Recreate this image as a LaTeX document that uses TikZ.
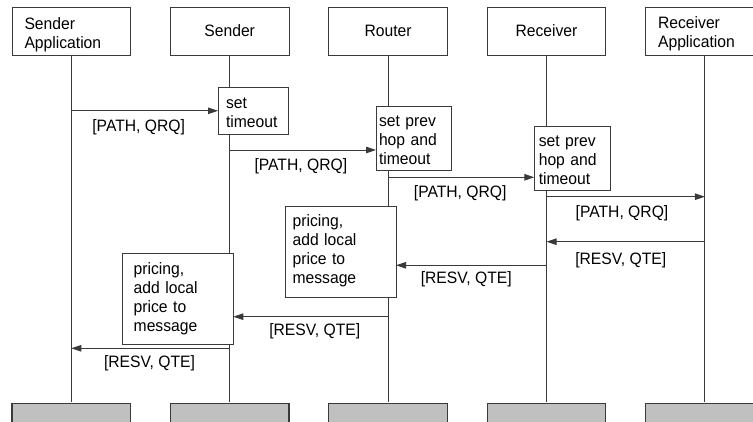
\documentclass[tikz,border=0pt]{standalone}
\usepackage{fontspec}
\setmainfont{Liberation Sans}[FakeStretch=0.95]
\usetikzlibrary{arrows.meta,calc}
\definecolor{ln}{HTML}{3A3A3A}
\definecolor{bx}{HTML}{C0C0C0}
\begin{document}
\begin{tikzpicture}[x=1pt,y=-1pt,
  font=\fontsize{16.5}{19}\selectfont,
  box/.style={draw=ln, line width=0.9pt, fill=white, inner ysep=0pt, outer sep=0pt, anchor=north west},
  topbox/.style={box, text width=108.6pt, inner xsep=5pt, align=center, text height=29.7pt, text depth=18pt},
  appbox/.style={box, align=left, text width=93.6pt, inner xsep=12.5pt},
  botbox/.style={draw=ln, line width=1.1pt, fill=bx, inner sep=0pt, outer sep=0pt, anchor=north west, minimum width=118.6pt, minimum height=40pt},
  life/.style={draw=ln, line width=0.9pt},
  msg/.style={draw=ln, line width=0.9pt, -{Triangle[length=10pt,width=6.5pt]}},
  lbl/.style={inner sep=0pt, midway}
]
\clip (0,0) rectangle (753,422);
\fill[white] (0,0) rectangle (753,422);

% top boxes
\node[appbox, text height=22pt, text depth=25.7pt] (tSA) at (12,7.3) {Sender\\Application};
\node[topbox] (tS) at (170.4,7.3) {Sender};
\node[topbox] (tR) at (328.8,7.3) {Router};
\node[topbox] (tRc) at (487.2,7.3) {Receiver};
\node[appbox, text height=21pt, text depth=26.7pt] (tRA) at (645.6,7.3) {Receiver\\Application};

% bottom boxes
\node[botbox] (bSA) at (12,403.5) {};
\node[botbox] (bS) at (170.4,403.5) {};
\node[botbox] (bR) at (328.8,403.5) {};
\node[botbox] (bRc) at (487.2,403.5) {};
\node[botbox] (bRA) at (645.6,403.5) {};

% process boxes
\node[box, align=left, text width=54.7pt, inner xsep=8pt, text height=21pt, text depth=26pt] (pST) at (218,87.3) {set\\timeout};
\node[box, align=left, text width=69.7pt, inner xsep=3pt, text height=19.5pt, text depth=43.8pt] (pRH) at (376,106.7) {set prev\\hop and\\timeout};
\node[box, align=left, text width=66.7pt, inner xsep=4.5pt, text height=19.5pt, text depth=43.8pt] (pCH) at (534.3,126.7) {set prev\\hop and\\timeout};
\node[box, align=left, text width=95.8pt, inner xsep=7.6pt, text height=20.5pt, text depth=70.8pt] (pRP) at (285,206) {pricing,\\add local\\price to\\message};
\node[box, align=left, text width=88.6pt, inner xsep=11pt, text height=21.5pt, text depth=69.5pt] (pSP) at (122.7,253.3) {pricing,\\add local\\price to\\message};

% lifelines
\draw[life, shorten >=1.5pt] (tSA.south) -- (bSA.north);
\draw[life] (tS.south) -- (tS.south |- pST.north);
\draw[life] (tS.south |- pST.south) -- (tS.south |- pSP.north);
\draw[life, shorten >=1.5pt] (tS.south |- pSP.south) -- (bS.north);
\draw[life] (tR.south) -- (tR.south |- pRH.north);
\draw[life] (tR.south |- pRH.south) -- (tR.south |- pRP.north);
\draw[life, shorten >=1.5pt] (tR.south |- pRP.south) -- (bR.north);
\draw[life] (tRc.south) -- (tRc.south |- pCH.north);
\draw[life, shorten >=1.5pt] (tRc.south |- pCH.south) -- (bRc.north);
\draw[life, shorten >=1.5pt] (tRA.south) -- (bRA.north);

% message heights
\coordinate (y2) at (0,150);
\coordinate (y3) at (0,177.3);
\coordinate (y4) at (0,196.7);
\coordinate (y5) at (0,241.7);
\coordinate (y6) at (0,265.3);
\coordinate (y7) at (0,316.7);
\coordinate (y8) at (0,348.3);

% messages
\draw[msg] (tSA.south |- pST.west) -- (pST.west)
  node[lbl, xshift=-6pt, yshift=-16pt] {[PATH, QRQ]};
\draw[msg] (tS.south |- y2) -- (pRH.west |- y2)
  node[lbl, xshift=-2pt, yshift=-16pt] {[PATH, QRQ]};
\draw[msg] (tR.south |- y3) -- (pCH.west |- y3)
  node[lbl, xshift=-1pt, yshift=-16pt] {[PATH, QRQ]};
\draw[msg] (tRc.south |- y4) -- (tRA.south |- y4)
  node[lbl, xshift=-3.7pt, yshift=-16.3pt] {[PATH, QRQ]};
\draw[msg] (tRA.south |- y5) -- (tRc.south |- y5)
  node[lbl, xshift=-5pt, yshift=-18.3pt] {[RESV, QTE]};
\draw[msg] (tRc.south |- y6) -- (pRP.east |- y6)
  node[lbl, xshift=-5pt, yshift=-14pt] {[RESV, QTE]};
\draw[msg] (tR.south |- y7) -- (pSP.east |- y7)
  node[lbl, xshift=4pt, yshift=-15pt] {[RESV, QTE]};
\draw[msg] (tS.south |- y8) -- (tSA.south |- y8)
  node[lbl, xshift=-1pt, yshift=-15pt] {[RESV, QTE]};
\end{tikzpicture}
\end{document}
